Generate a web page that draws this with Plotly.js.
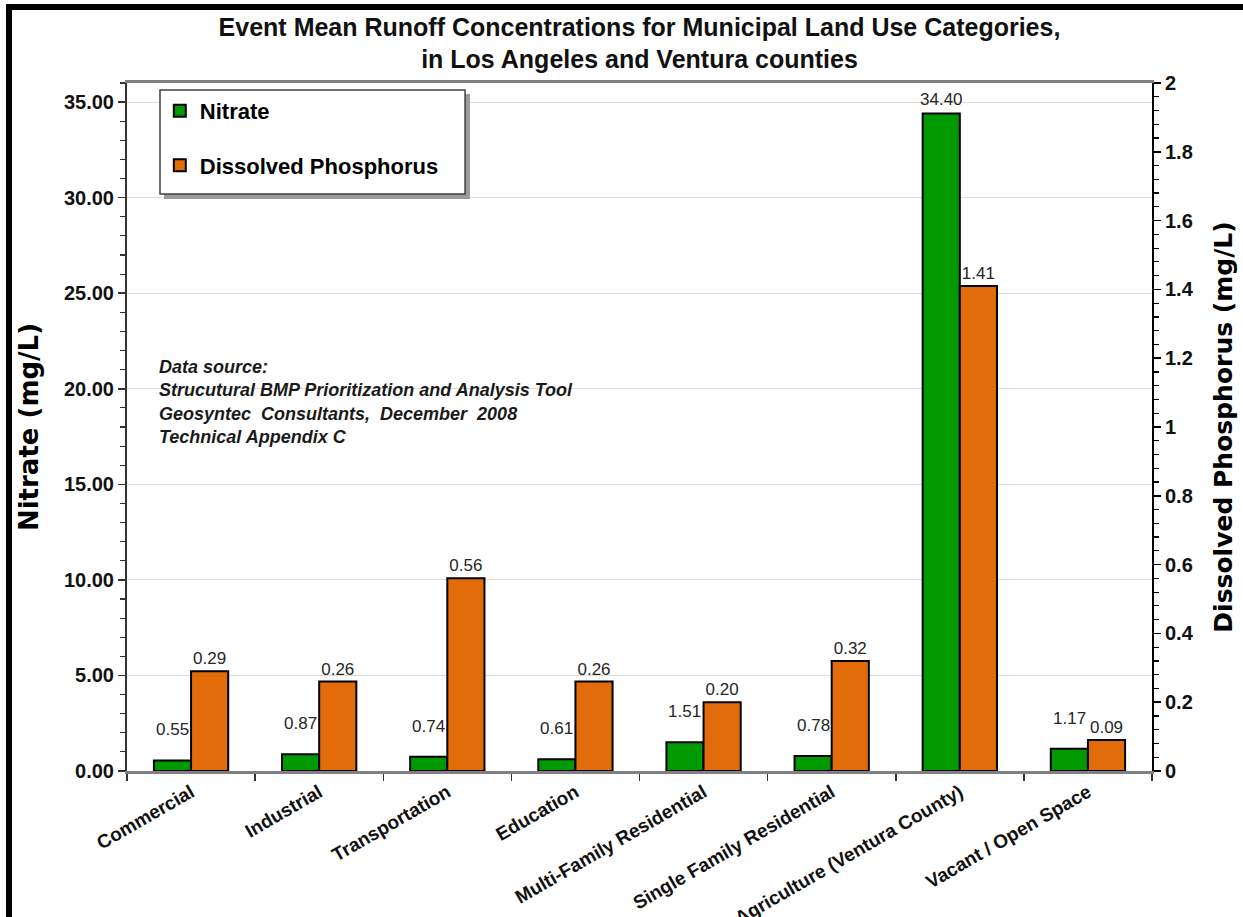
<!DOCTYPE html>
<html>
<head>
<meta charset="utf-8">
<script src="https://cdn.plot.ly/plotly-3.0.1.min.js"></script>
<style>
  html, body { margin: 0; padding: 0; background: #ffffff; }
  #wrap { position: relative; width: 1243px; height: 917px; overflow: hidden; }
  #chart { position: absolute; left: 0; top: 0; width: 1243px; height: 917px; }
  #frame { position: absolute; left: 6px; top: 4px; width: 1300px; height: 1000px;
           border-left: 6px solid #000; border-top: 6px solid #000; pointer-events: none; }
</style>
</head>
<body>
<div id="wrap">
  <div id="chart"></div>
  <div id="frame"></div>
</div>
<script>
// ---- data ----
const categories = [
  'Commercial', 'Industrial', 'Transportation', 'Education',
  'Multi-Family Residential', 'Single Family Residential',
  'Agriculture (Ventura County)', 'Vacant / Open Space'
];
const nitrate = [0.55, 0.87, 0.74, 0.61, 1.51, 0.78, 34.40, 1.17];
const phosphorus = [0.29, 0.26, 0.56, 0.26, 0.20, 0.32, 1.41, 0.09];
const seriesNames = ['Nitrate', 'Dissolved Phosphorus'];
const leftTicks = [0, 5, 10, 15, 20, 25, 30, 35];
const rightTicks = [0, 0.2, 0.4, 0.6, 0.8, 1, 1.2, 1.4, 1.6, 1.8, 2];
const titleLines = ['Event Mean Runoff Concentrations for Municipal Land Use Categories,', 'in Los Angeles and Ventura counties'];
const sourceLines = ['Data source:', 'Strucutural BMP Prioritization and Analysis Tool', 'Geosyntec  Consultants,  December  2008', 'Technical Appendix C'];

// ---- style ----
const GREEN = '#009900';
const ORANGE = '#E36C0A';
const FONT = 'Liberation Sans, Arial, sans-serif';
const WIDE = 'DejaVu Sans, Liberation Sans, sans-serif';
const BW = 0.29; // bar width in category units

const traces = [
  {
    type: 'bar', name: seriesNames[0], x: categories, y: nitrate,
    xaxis: 'x', yaxis: 'y', width: BW, offset: -BW,
    marker: { color: GREEN, line: { color: '#000', width: 2 } },
    hoverinfo: 'x+y', legendgroup: 'a'
  },
  {
    type: 'bar', name: seriesNames[1], x: categories, y: phosphorus,
    xaxis: 'x', yaxis: 'y2', width: BW, offset: 0,
    marker: { color: ORANGE, line: { color: '#000', width: 2 } },
    texttemplate: '%{y:.2f}', textposition: 'outside', cliponaxis: false,
    textfont: { family: FONT, size: 17, color: '#262626' },
    hoverinfo: 'x+y', legendgroup: 'b'
  }
];

const annotations = nitrate.map((v, i) => ({
  x: i - BW / 2, y: v, xref: 'x', yref: 'y',
  text: v.toFixed(2), showarrow: false,
  yanchor: 'bottom', yshift: v > 30 ? 3 : 19,
  font: { family: FONT, size: 17, color: '#262626' }
}));
annotations.push({
  xref: 'paper', yref: 'paper', x: 0.029, y: 0.604,
  xanchor: 'left', yanchor: 'top', align: 'left', showarrow: false,
  text: sourceLines.map(s => '<b><i>' + s + '</i></b>').join('<br>'),
  font: { family: FONT, size: 18, color: '#1a1a1a' }
});

// legend frame with drop shadow (paper coordinates)
const shapes = [
  { type: 'rect', xref: 'paper', yref: 'paper', layer: 'above',
    x0: 0.0361, x1: 0.3346, y0: 0.8314, y1: 0.9840,
    fillcolor: '#9a9a9a', line: { width: 0 } },
  { type: 'rect', xref: 'paper', yref: 'paper', layer: 'above',
    x0: 0.0322, x1: 0.3298, y0: 0.8387, y1: 0.9898,
    fillcolor: '#ffffff', line: { color: '#404040', width: 1.5 } }
];

const layout = {
  width: 1243, height: 917,
  margin: { l: 127, r: 91, t: 83, b: 146 },
  paper_bgcolor: '#ffffff', plot_bgcolor: '#ffffff',
  showlegend: true,
  title: {
    text: titleLines.map(s => '<b>' + s + '</b>').join('<br>'),
    x: 0.5, xref: 'paper', xanchor: 'center',
    y: 0.961, yref: 'container', yanchor: 'top',
    font: { family: FONT, size: 25, color: '#111' }
  },
  xaxis: {
    type: 'category', range: [-0.5, 7.5],
    showline: true, linecolor: '#808080', linewidth: 3, mirror: true,
    ticks: 'outside', tickson: 'boundaries', ticklen: 7, tickcolor: '#333', tickwidth: 1.5,
    tickangle: -30, showgrid: false, zeroline: false,
    tickfont: { family: FONT, size: 19, color: '#111', weight: 'bold' }
  },
  yaxis: {
    range: [0, 36], tickvals: leftTicks, tickformat: '.2f',
    showline: true, linecolor: '#333', linewidth: 2,
    ticks: 'outside', ticklen: 7, tickcolor: '#333', tickwidth: 1.5,
    minor: { dtick: 1, ticks: 'outside', ticklen: 5, tickcolor: '#333', tickwidth: 1.2, showgrid: false },
    showgrid: true, gridcolor: '#dcdcdc', gridwidth: 1, zeroline: false,
    tickfont: { family: FONT, size: 20, color: '#111', weight: 'bold' },
    title: { text: '<b>Nitrate (mg/L)</b>', standoff: 18,
             font: { family: WIDE, size: 26, color: '#000' } }
  },
  yaxis2: {
    overlaying: 'y', side: 'right', range: [0, 2], tickvals: rightTicks,
    showline: true, linecolor: '#000', linewidth: 2,
    ticks: 'outside', ticklen: 7, tickcolor: '#000', tickwidth: 1.5,
    minor: { dtick: 0.04, ticks: 'outside', ticklen: 5, tickcolor: '#000', tickwidth: 1.2, showgrid: false },
    showgrid: false, zeroline: false,
    tickfont: { family: FONT, size: 20, color: '#111', weight: 'bold' },
    title: { text: '<b>Dissolved Phosphorus (mg/L)</b>', standoff: 22,
             font: { family: WIDE, size: 25, color: '#000' } }
  },
  legend: {
    x: 0.032, y: 0.99, xanchor: 'left', yanchor: 'top',
    bgcolor: 'rgba(0,0,0,0)', borderwidth: 0,
    tracegroupgap: 23, traceorder: 'grouped',
    font: { family: FONT, size: 22, color: '#000', weight: 'bold' }
  },
  shapes: shapes,
  annotations: annotations
};

Plotly.newPlot('chart', traces, layout, { displayModeBar: false, staticPlot: true });
</script>
</body>
</html>
